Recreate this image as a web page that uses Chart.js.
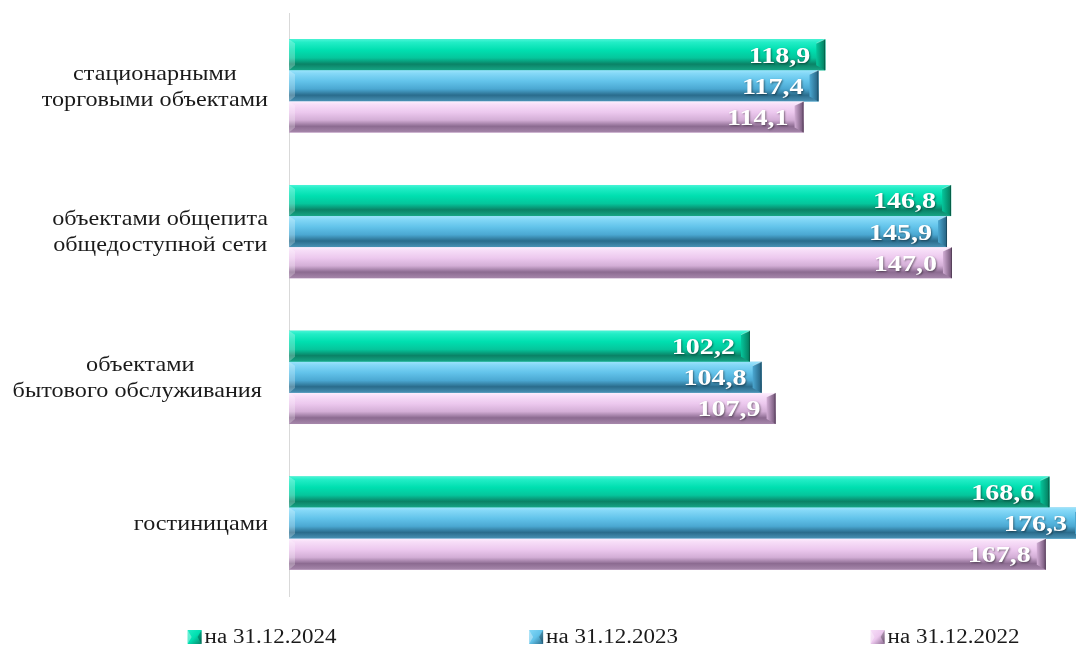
<!DOCTYPE html>
<html>
<head>
<meta charset="utf-8">
<script src="https://cdn.jsdelivr.net/npm/chart.js@4/dist/chart.umd.min.js"></script>
<style>
  html, body { margin: 0; padding: 0; background: #ffffff; }
  #wrap { width: 1076px; height: 653px; }
</style>
</head>
<body>
<div id="wrap"><canvas id="c" width="1076" height="653"></canvas></div>
<script>
// ---- data ----
const categories = [
  ["стационарными", "торговыми объектами"],
  ["объектами общепита", "общедоступной сети"],
  ["объектами", "бытового обслуживания "],
  ["гостиницами"]
];
const seriesLabels = ["на 31.12.2024", "на 31.12.2023", "на 31.12.2022"];
const values2024 = [118.9, 146.8, 102.2, 168.6];
const values2023 = [117.4, 145.9, 104.8, 176.3];
const values2022 = [114.1, 147.0, 107.9, 167.8];

// ---- styles ----
const palettes = [
  { face: "#00dfb0", top: "#48f4d6", hl: "#22edc6", face2: "#05c69c", dark: "#0a8266", bottom: "#17a585", end: "#067a5c" },
  { face: "#62c3ea", top: "#9be3fb", hl: "#84d8f7", face2: "#4ba8d2", dark: "#2a6c8c", bottom: "#4a92b5", end: "#245f7e" },
  { face: "#ecc8ee", top: "#fdeefd", hl: "#f7def8", face2: "#d3aed6", dark: "#8c6b91", bottom: "#a687ab", end: "#6d5072" }
];
const TEXT_STRETCH = 1.2;
const VALUE_STRETCH = 1.22;
const CAT_STRETCH = 1.1;

function fmt(v) { return v.toFixed(1).replace(".", ","); }

function stretchedText(ctx, text, x, y, s) {
  ctx.save();
  ctx.translate(x, y);
  ctx.scale(s, 1);
  ctx.fillText(text, 0, 0);
  ctx.restore();
}

function drawBevelBar(ctx, x0, x1, top, bottom, p) {
  const h = bottom - top;
  if (x1 - x0 < 2) return;
  const g = ctx.createLinearGradient(0, top, 0, bottom);
  g.addColorStop(0, p.top);
  g.addColorStop(0.1, p.hl);
  g.addColorStop(0.35, p.face);
  g.addColorStop(0.6, p.face2);
  g.addColorStop(0.8, p.dark);
  g.addColorStop(1, p.bottom);
  ctx.fillStyle = g;
  ctx.fillRect(x0, top, x1 - x0, h);
  // left end bevel (light)
  ctx.fillStyle = "rgba(255,255,255,0.25)";
  ctx.beginPath();
  ctx.moveTo(x0, top); ctx.lineTo(x0 + 6, top + 4); ctx.lineTo(x0 + 6, bottom - 5); ctx.lineTo(x0, bottom);
  ctx.closePath(); ctx.fill();
  // right end bevel (dark)
  const b = 9;
  const ge = ctx.createLinearGradient(x1 - b, 0, x1, 0);
  ge.addColorStop(0, p.face2);
  ge.addColorStop(1, p.end);
  ctx.fillStyle = ge;
  ctx.beginPath();
  ctx.moveTo(x1 - b, top + 4); ctx.lineTo(x1, top); ctx.lineTo(x1, bottom); ctx.lineTo(x1 - b, bottom - 5);
  ctx.closePath(); ctx.fill();
  ctx.strokeStyle = "rgba(255,255,255,0.35)";
  ctx.lineWidth = 1;
  ctx.beginPath(); ctx.moveTo(x1 - b, top + 4); ctx.lineTo(x1, top); ctx.stroke();
  ctx.strokeStyle = "rgba(0,0,0,0.25)";
  ctx.beginPath(); ctx.moveTo(x1 - 0.5, top); ctx.lineTo(x1 - 0.5, bottom); ctx.stroke();
}

const bevelPlugin = {
  id: "bevelBars",
  afterDatasetsDraw(chart) {
    const ctx = chart.ctx;
    ctx.save();
    chart.data.datasets.forEach((ds, di) => {
      const meta = chart.getDatasetMeta(di);
      meta.data.forEach((el) => {
        const { x, y, base, height } = el.getProps(["x", "y", "base", "height"], true);
        drawBevelBar(ctx, base, x, y - height / 2, y + height / 2, palettes[di]);
      });
    });
    // value labels
    ctx.font = "bold 23px 'Liberation Serif', 'Times New Roman', serif";
    ctx.textAlign = "right";
    ctx.textBaseline = "middle";
    ctx.fillStyle = "#ffffff";
    ctx.shadowColor = "rgba(0,0,0,0.45)";
    ctx.shadowBlur = 2;
    ctx.shadowOffsetX = 1;
    ctx.shadowOffsetY = 1;
    chart.data.datasets.forEach((ds, di) => {
      const meta = chart.getDatasetMeta(di);
      meta.data.forEach((el, i) => {
        const { x, y } = el.getProps(["x", "y"], true);
        const tx = Math.min(x - 15, chart.width - 9);
        stretchedText(ctx, fmt(ds.data[i]), tx, y + 2, VALUE_STRETCH);
      });
    });
    ctx.restore();
  },
  afterDraw(chart) {
    const ctx = chart.ctx;
    const yScale = chart.scales.y;
    ctx.save();
    // category labels: lines centered inside a right-aligned block
    ctx.font = "22px 'Liberation Serif', 'Times New Roman', serif";
    ctx.fillStyle = "#1a1a1a";
    ctx.textBaseline = "middle";
    ctx.textAlign = "center";
    const blockRight = 268, lineH = 26;
    categories.forEach((lines, i) => {
      const yc = yScale.getPixelForValue(i);
      const bw = Math.max(...lines.map(l => ctx.measureText(l).width)) * CAT_STRETCH;
      const cx = blockRight - bw / 2;
      lines.forEach((l, j) => {
        stretchedText(ctx, l, cx, yc + 1 + (j - (lines.length - 1) / 2) * lineH, CAT_STRETCH);
      });
    });
    // legend
    ctx.font = "20px 'Liberation Serif', 'Times New Roman', serif";
    ctx.textAlign = "left";
    const legendY = 637, colStart = 262, colW = 341.5, mk = 14;
    seriesLabels.forEach((lab, i) => {
      const tw = ctx.measureText(lab).width * 1.15;
      const total = mk + 3 + tw;
      const x0 = colStart + i * colW - total / 2;
      const p = palettes[i];
      const my = legendY - mk / 2;
      const g = ctx.createLinearGradient(x0, my, x0 + mk, my + mk);
      g.addColorStop(0, p.hl); g.addColorStop(0.5, p.face); g.addColorStop(1, p.dark);
      ctx.fillStyle = g;
      ctx.fillRect(x0, my, mk, mk);
      ctx.fillStyle = "rgba(255,255,255,0.35)";
      ctx.beginPath(); ctx.moveTo(x0, my); ctx.lineTo(x0 + 4, my + mk / 2); ctx.lineTo(x0, my + mk); ctx.closePath(); ctx.fill();
      ctx.fillStyle = "rgba(0,0,0,0.25)";
      ctx.beginPath(); ctx.moveTo(x0 + mk, my); ctx.lineTo(x0 + mk - 4, my + mk / 2); ctx.lineTo(x0 + mk, my + mk); ctx.closePath(); ctx.fill();
      ctx.fillStyle = "#1a1a1a";
      stretchedText(ctx, lab, x0 + mk + 3, legendY + 1, 1.15);
    });
    ctx.restore();
  }
};

const seriesValues = [values2024, values2023, values2022];
new Chart(document.getElementById("c"), {
  type: "bar",
  data: {
    labels: categories,
    datasets: seriesLabels.map((lab, i) => ({
      label: lab,
      data: seriesValues[i],
      backgroundColor: palettes[i].face,
      borderWidth: 0,
      barPercentage: 1.0,
      categoryPercentage: 0.64,
      clip: false
    }))
  },
  options: {
    indexAxis: "y",
    responsive: false,
    animation: false,
    devicePixelRatio: 1,
    layout: { padding: { top: 13, bottom: 57, left: 0, right: 0 } },
    plugins: { legend: { display: false }, tooltip: { enabled: false } },
    scales: {
      x: { display: false, min: 0, max: 174.5 },
      y: {
        grid: { display: false },
        border: { display: true, color: "#d9d9d9", width: 1 },
        ticks: { display: false },
        afterFit(scale) { scale.width = 289; }
      }
    }
  },
  plugins: [bevelPlugin]
});
</script>
</body>
</html>
